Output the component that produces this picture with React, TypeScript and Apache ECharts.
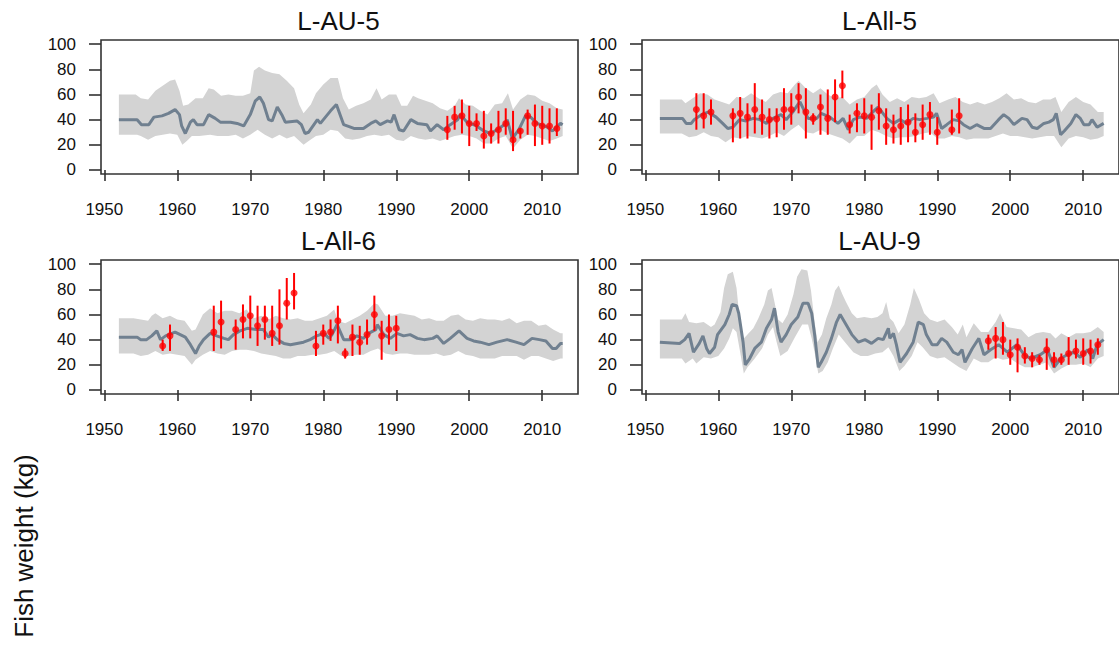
import React, { useEffect, useRef } from "react";
import * as echarts from "echarts";

// ---------- tick labels ----------
const xTicks = [1950, 1960, 1970, 1980, 1990, 2000, 2010];
const yTicks = [0, 20, 40, 60, 80, 100];
const titles = ["L-AU-5", "L-All-5", "L-All-6", "L-AU-9"];
const yTitle = "Fish weight (kg)";

// ---------- Panel 1: L-AU-5 ----------
const p1Line = [[1952,40],[1954.5,40],[1955.1,36],[1956.1,36],[1956.8,42],[1957.9,43],[1958.8,45],[1959.7,48],[1960.3,44],[1960.6,35],[1961.1,29],[1961.8,38],[1962.2,40],[1962.7,36],[1963.6,36],[1964.3,44],[1965.2,41],[1965.9,38],[1967.3,38],[1968.2,37],[1969.1,35],[1970,44],[1970.7,55],[1971.3,58],[1971.8,53],[1972.5,40],[1973,39],[1973.7,50],[1974.4,43],[1974.8,38],[1976.4,39],[1977,36],[1977.5,29],[1978,30],[1979.2,40],[1979.6,37],[1981,47],[1981.8,52],[1982.8,36],[1984.2,33],[1985.5,33],[1986.5,37],[1987.2,39],[1987.8,36],[1988.8,39],[1989.3,38],[1989.7,44],[1990.4,32],[1991,31],[1992,40],[1992.9,37],[1994.2,36],[1994.7,31],[1995.6,36],[1996.5,32],[1997.4,36],[1998.4,40],[1998.8,44],[1999.7,38],[2001,35],[2002,31],[2002.9,29],[2003.8,32],[2004.8,36],[2005.2,40],[2005.9,25],[2006.8,32],[2007.7,43],[2008.4,42],[2009.3,37],[2010.7,34],[2011.4,31],[2012.5,37],[2012.8,36]];
const p1Upper = [[1952,60],[1954.3,60],[1955,57],[1956,56],[1957,63],[1958,67],[1959,71],[1959.7,72],[1960.3,63],[1960.8,51],[1961.5,52],[1962.5,57],[1963.5,57],[1964.3,65],[1965,64],[1966,59],[1967,60],[1968,59],[1969,59],[1970,61],[1970.5,79],[1971.2,82],[1972,79],[1973,77],[1974,76],[1975,71],[1976,65],[1976.7,52],[1977.3,45],[1978.3,52],[1979,61],[1980,68],[1981,73],[1982,73],[1982.7,57],[1983.5,48],[1984.5,51],[1985.5,53],[1986.5,56],[1987.3,65],[1988,56],[1989,60],[1990,60],[1990.7,51],[1991.5,51],[1992.3,59],[1993,57],[1994,55],[1995,53],[1996,49],[1997,47],[1998,51],[1998.6,57],[1999.5,52],[2000.5,51],[2001.5,47],[2002.5,44],[2003.5,52],[2004.5,53],[2005.3,61],[2006,48],[2007,56],[2008,60],[2009,59],[2010,55],[2011,53],[2012,49],[2012.8,48]];
const p1Lower = [[1952,28],[1954.5,28],[1955,27],[1956,24],[1957,27],[1958,28],[1959,29],[1960,28],[1960.7,20],[1961.3,23],[1962,27],[1963,27],[1964.5,28],[1965.5,27],[1967,27],[1968,28],[1969,25],[1970,28],[1971,32],[1972,28],[1973,25],[1974,28],[1975,25],[1976,27],[1977.3,20],[1978,23],[1979,27],[1980,28],[1981,32],[1982,31],[1983,25],[1984,24],[1985,25],[1986,27],[1987,28],[1988,27],[1989,28],[1990,24],[1991,23],[1992,27],[1993,25],[1994,24],[1995,25],[1996,23],[1997,25],[1998,27],[1999,28],[2000,27],[2001,25],[2002,21],[2003,21],[2004,25],[2005,27],[2006,17],[2007,24],[2008,28],[2009,27],[2010,25],[2011,23],[2012,25],[2012.8,27]];
const p1ObsYear = [1997,1998,1999,2000,2001,2002,2003,2004,2005,2006,2007,2008,2009,2010,2011,2012];
const p1ObsMean = [32,42,43,37,37,27,29,32,37,24,31,43,37,35,35,33];
const p1ObsLo = [24,32,29,19,31,17,21,21,28,15,25,28,19,20,21,27];
const p1ObsHi = [43,51,56,51,45,47,37,47,49,47,33,48,52,51,49,49];

// ---------- Panel 2: L-All-5 ----------
const p2Line = [[1952,41],[1955.1,41],[1955.6,37],[1956.3,37],[1956.7,40],[1957.7,44],[1958.6,46],[1959.7,42],[1960.6,37],[1961.3,33],[1962,34],[1962.9,40],[1963.8,39],[1964.8,41],[1965.7,40],[1966.6,37],[1967.5,41],[1968.6,44],[1969.3,40],[1970.2,46],[1970.9,52],[1971.2,54],[1972.3,41],[1973.5,41],[1974.1,45],[1975.3,42],[1976.4,37],[1977.1,41],[1977.8,32],[1978.5,40],[1979.4,42],[1980.3,41],[1981.5,48],[1981.9,50],[1983.1,41],[1984,37],[1984.9,40],[1985.8,37],[1986.7,41],[1987.6,40],[1988.6,41],[1989.5,42],[1989.9,45],[1990.6,33],[1991.3,36],[1992.2,40],[1993,39],[1993.6,36],[1994.5,33],[1995.4,36],[1996.4,33],[1997.3,33],[1998.4,40],[1999.1,44],[1999.8,41],[2000.5,36],[2001.6,41],[2002.3,40],[2003,34],[2003.7,33],[2004.6,37],[2005.3,38],[2005.9,40],[2006.3,45],[2006.9,28],[2007.4,31],[2008.3,37],[2009,44],[2009.6,41],[2010.1,36],[2010.8,36],[2011.2,40],[2011.9,34],[2012.8,37]];
const p2Upper = [[1952,56],[1955,56],[1955.5,53],[1956.5,57],[1957.5,61],[1958.5,60],[1959.5,56],[1960.5,54],[1961.5,52],[1962.5,58],[1963.5,57],[1964.5,61],[1965.5,57],[1966.5,54],[1967.5,60],[1968.5,62],[1969.5,61],[1970.5,68],[1971,71],[1972,65],[1973,61],[1974,65],[1975,60],[1976,57],[1977,58],[1978,52],[1979,56],[1980,58],[1981,65],[1981.7,68],[1982.5,60],[1983.5,54],[1984.5,57],[1985.5,54],[1986.5,58],[1987.5,57],[1988.5,58],[1989.5,61],[1990.3,53],[1991.5,56],[1992.5,58],[1993.5,54],[1994.5,52],[1995.5,54],[1996.5,52],[1997.5,54],[1998.5,57],[1999.5,61],[2000.5,56],[2001.5,57],[2002.5,54],[2003.5,53],[2004.5,56],[2005.5,56],[2006.2,58],[2007,46],[2008,54],[2009,58],[2010,54],[2011,52],[2012,46],[2012.8,46]];
const p2Lower = [[1952,29],[1955,29],[1956,26],[1957,27],[1958,30],[1959,27],[1960,26],[1961,22],[1962,26],[1963,25],[1964,27],[1965,26],[1966,25],[1967,27],[1968,30],[1969,27],[1970,32],[1971,36],[1972,30],[1973,29],[1974,32],[1975,29],[1976,27],[1977,25],[1978,21],[1979,27],[1980,27],[1981,32],[1982,30],[1983,27],[1984,25],[1985,26],[1986,26],[1987,27],[1988,29],[1989,30],[1990,25],[1991,25],[1992,27],[1993,26],[1994,24],[1995,25],[1996,25],[1997,25],[1998,27],[1999,29],[2000,27],[2001,27],[2002,26],[2003,25],[2004,26],[2005,27],[2006,27],[2007,18],[2008,25],[2009,27],[2010,26],[2011,24],[2012,25],[2012.8,27]];
const p2ObsYear = [1957,1958,1959,1962,1963,1964,1965,1966,1967,1968,1969,1970,1971,1972,1973,1974,1975,1976,1977,1978,1979,1980,1981,1982,1983,1984,1985,1986,1987,1988,1989,1990,1992,1993];
const p2ObsMean = [48,43,46,43,45,42,48,42,40,40.5,48,48,58,46,41,50,41,58,67,36,45,43,42,47,35,32,35,38,30,36,44,30,32,43];
const p2ObsLo = [32,33,36,22,25,25,29,28,25,26,32,36,45,25,36,28,28,38,57,29,30,29,16,32,20,21,20,22,22,24,28,20,28,29];
const p2ObsHi = [61,61,56,49,58,53,69,56,49,49,65,61,69,65,45,60,64,72,79,44,53,57,52,61,49,44,50,52,45,52,54,42,48,57];

// ---------- Panel 3: L-All-6 ----------
const p3Line = [[1952,42],[1954.5,42],[1955,40],[1955.8,40],[1956.5,43],[1957.2,47],[1957.7,40],[1958.4,43],[1959.7,46],[1960.4,44],[1961.1,42],[1961.8,36],[1962.5,29],[1963,35],[1963.6,40],[1964.5,45],[1965.4,43],[1966.4,41],[1967,40],[1967.7,44],[1968.6,47],[1969.6,49],[1970.9,48],[1971.8,48],[1972.5,42],[1973,44],[1973.7,40],[1974.6,37],[1975.5,36],[1976.4,37],[1977.3,38],[1978.2,40],[1979.1,43],[1980.1,45],[1980.8,41],[1981.2,44],[1981.9,52],[1982.8,40],[1983.7,40],[1984.6,43],[1985.5,41],[1986.2,45],[1987.2,48],[1987.4,52],[1988.3,44],[1989.2,41],[1990.1,45],[1991,43],[1991.9,44],[1992.9,41],[1993.8,40],[1995,41],[1995.6,43],[1996.5,37],[1997.4,41],[1998.6,47],[1999.7,41],[2000.6,39],[2001.5,38],[2002.7,36],[2003.8,38],[2005.2,40],[2006.4,38],[2007.5,36],[2008.6,41],[2009.6,40],[2010.5,39],[2011.4,33],[2011.9,33],[2012.5,37],[2012.8,37]];
const p3Upper = [[1952,57],[1954,57],[1955,56],[1956,55],[1956.5,59],[1957,61],[1958,57],[1959,59],[1960,56],[1961,55],[1962,47],[1962.5,48],[1963.5,60],[1964.5,65],[1965.5,61],[1966.5,63],[1967.5,63],[1968.5,61],[1969.5,64],[1970.5,57],[1971.5,59],[1972.5,56],[1973.5,59],[1974.5,57],[1975.5,56],[1976.5,57],[1977.5,55],[1978.5,55],[1979.5,57],[1980.5,59],[1981.5,64],[1982,55],[1983,53],[1984,56],[1985,59],[1986,63],[1987,69],[1987.5,68],[1988.5,59],[1989.5,59],[1990.5,61],[1991.5,60],[1992.5,59],[1993.5,56],[1994.5,57],[1995.5,55],[1996.5,55],[1997.5,59],[1998.5,60],[1999.5,56],[2000.5,55],[2001.5,57],[2002.5,56],[2003.5,56],[2004.5,55],[2005.5,57],[2006.5,53],[2007.5,55],[2008.5,55],[2009.5,51],[2010.5,52],[2011.5,48],[2012.5,45],[2012.8,45]];
const p3Lower = [[1952,29],[1954,29],[1955,27],[1956,28],[1957,31],[1958,28],[1959,29],[1960,28],[1961,27],[1962,20],[1962.5,24],[1963.5,28],[1964.5,31],[1965.5,29],[1966.5,28],[1967.5,31],[1968.5,32],[1969.5,32],[1970.5,31],[1971.5,29],[1972.5,28],[1973.5,27],[1974.5,25],[1975.5,25],[1976.5,27],[1977.5,27],[1978.5,28],[1979.5,28],[1980.5,29],[1981.5,31],[1982.5,27],[1983.5,27],[1984.5,28],[1985.5,28],[1986.5,31],[1987.5,33],[1988.5,29],[1989.5,28],[1990.5,29],[1991.5,29],[1992.5,28],[1993.5,28],[1994.5,28],[1995.5,29],[1996.5,27],[1997.5,28],[1998.5,31],[1999.5,28],[2000.5,27],[2001.5,25],[2002.5,25],[2003.5,25],[2004.5,27],[2005.5,27],[2006.5,27],[2007.5,24],[2008.5,27],[2009.5,27],[2010.5,25],[2011.5,23],[2012.5,25],[2012.8,25]];
const p3ObsYear = [1958,1959,1965,1966,1968,1969,1970,1971,1972,1973,1974,1975,1976,1979,1980,1981,1982,1983,1984,1985,1986,1987,1988,1989,1990];
const p3ObsMean = [35,43,46,54,48,56,59,51,56,45,51,69,77,35,45,46,55,29,42,38,44,60,43,48,49];
const p3ObsLo = [31,31,31,33,32,41,41,35,40,35,36,56,64,27,36,39,37,25,27,28,36,47,24,36,31];
const p3ObsHi = [40,52,67,71,56,68,75,67,67,67,80,89,93,47,52,56,67,33,52,51,56,75,55,60,59];

// ---------- Panel 4: L-AU-9 ----------
const p4Line = [[1952,38],[1954.7,37],[1955.4,40],[1956,45],[1956.6,30],[1957.4,37],[1957.9,43],[1958.4,33],[1958.8,29],[1959.5,34],[1959.9,44],[1960.9,52],[1961.5,60],[1961.9,68],[1962.5,67],[1962.8,61],[1963.4,38],[1963.7,20],[1964.3,25],[1965,33],[1965.9,38],[1966.6,49],[1967.3,56],[1967.7,65],[1968.2,46],[1968.6,38],[1969.3,44],[1970,52],[1970.9,58],[1971.6,69],[1972.3,69],[1972.8,61],[1973.2,44],[1973.7,18],[1974.1,22],[1974.8,30],[1975.5,41],[1976.2,54],[1976.7,60],[1977.3,54],[1978.3,44],[1979.2,38],[1980.1,40],[1981,37],[1981.9,41],[1982.6,40],[1983.3,49],[1983.5,41],[1984,45],[1984.4,36],[1984.9,22],[1985.8,29],[1986.7,38],[1987.4,54],[1988.1,52],[1988.5,44],[1989.3,36],[1990,36],[1990.6,41],[1991.3,38],[1992.2,30],[1992.9,28],[1993.4,32],[1993.8,22],[1994.8,33],[1995.7,41],[1996.4,28],[1997.3,32],[1998.4,36],[1999.6,30],[2000.9,36],[2001.9,28],[2002.8,25],[2004.1,28],[2005.1,32],[2006,18],[2006.9,25],[2007.8,28],[2008.7,30],[2009.6,26],[2010.6,32],[2011.3,25],[2011.9,36],[2012.8,40]];
const p4Upper = [[1952,56],[1955,56],[1955.5,61],[1956,54],[1957,53],[1958,54],[1959,50],[1959.5,52],[1960.3,62],[1960.8,81],[1961.3,92],[1962,94],[1962.5,81],[1963,52],[1963.5,41],[1964,44],[1964.8,49],[1965.5,57],[1966.3,68],[1966.8,79],[1967.3,81],[1967.7,70],[1968.2,56],[1968.8,53],[1969.5,60],[1970.3,76],[1970.8,90],[1971.4,96],[1972.2,95],[1972.7,79],[1973.2,54],[1973.6,38],[1974.2,44],[1974.8,57],[1975.5,68],[1976,79],[1976.5,83],[1977,76],[1977.5,70],[1978.3,61],[1979,57],[1980,58],[1981,57],[1981.8,58],[1982.5,61],[1983,70],[1983.5,57],[1984,54],[1984.7,45],[1985.5,52],[1986.3,68],[1986.8,81],[1987.5,72],[1988.2,61],[1989,56],[1990,54],[1991,56],[1992,50],[1992.8,44],[1993.5,52],[1994,42],[1995,53],[1996,46],[1997,46],[1998,54],[1998.6,61],[1999.5,50],[2000.5,49],[2001.5,48],[2002.5,42],[2003.5,45],[2004.5,46],[2005.5,45],[2006.2,41],[2007,45],[2008,42],[2009,45],[2010,45],[2011,46],[2012,50],[2012.8,46]];
const p4Lower = [[1952,25],[1955,25],[1955.5,21],[1956.5,25],[1957,21],[1958,26],[1959,25],[1960,27],[1960.8,33],[1961.5,41],[1962,49],[1962.5,46],[1963,30],[1963.5,13],[1964,18],[1965,25],[1966,33],[1966.8,44],[1967.5,50],[1968,38],[1968.5,27],[1969.5,31],[1970.5,42],[1971.5,52],[1972.3,52],[1972.8,41],[1973.3,27],[1973.7,13],[1974.3,15],[1975,22],[1975.7,33],[1976.5,44],[1977.5,37],[1978.5,30],[1979.5,27],[1980.5,27],[1981.5,29],[1982.5,30],[1983.3,34],[1984,27],[1984.8,15],[1985.5,19],[1986.5,27],[1987.3,38],[1988,34],[1989,27],[1990,25],[1991,26],[1992,22],[1993,18],[1994,15],[1995,25],[1996,22],[1997,22],[1998,26],[1999,24],[2000,25],[2001,21],[2002,18],[2003,18],[2004,20],[2005,22],[2006,13],[2007,17],[2008,20],[2009,20],[2010,21],[2011,18],[2012,25],[2012.8,27]];
const p4ObsYear = [1997,1998,1999,2000,2001,2002,2003,2004,2005,2006,2007,2008,2009,2010,2011,2012];
const p4ObsMean = [39,41,40,28,34,27,25,24,32,24,24,29,31,29,31,36];
const p4ObsLo = [32,25,28,20,14,21,18,20,16,18,20,20,25,20,21,28];
const p4ObsHi = [44,50,54,40,41,34,30,28,41,30,29,42,40,41,40,41];

const panelData = [
  { line: p1Line, upper: p1Upper, lower: p1Lower, oy: p1ObsYear, om: p1ObsMean, ol: p1ObsLo, oh: p1ObsHi },
  { line: p2Line, upper: p2Upper, lower: p2Lower, oy: p2ObsYear, om: p2ObsMean, ol: p2ObsLo, oh: p2ObsHi },
  { line: p3Line, upper: p3Upper, lower: p3Lower, oy: p3ObsYear, om: p3ObsMean, ol: p3ObsLo, oh: p3ObsHi },
  { line: p4Line, upper: p4Upper, lower: p4Lower, oy: p4ObsYear, om: p4ObsMean, ol: p4ObsLo, oh: p4ObsHi },
];

// layout (pixels)
const gridPos = [
  { left: 101, top: 40 },
  { left: 642, top: 40 },
  { left: 101, top: 260 },
  { left: 642, top: 260 },
];
const GW = 477;
const GH = 134;
const FONT = "'Liberation Sans', Arial, sans-serif";
const AXIS_COLOR = "#333";

export default function App() {
  const ref = useRef<HTMLDivElement>(null);
  useEffect(() => {
    if (!ref.current) return;
    const chart = echarts.init(ref.current, undefined, { renderer: "svg" });

    const grid = gridPos.map((g) => ({
      left: g.left,
      top: g.top,
      width: GW,
      height: GH,
      show: true,
      borderColor: AXIS_COLOR,
      borderWidth: 1.6,
      backgroundColor: "transparent",
    }));

    const xAxis = gridPos.map((_, i) => ({
      type: "value",
      gridIndex: i,
      min: 1949.55,
      max: 2014.9,
      axisLine: { show: false },
      axisTick: {
        show: true,
        customValues: xTicks,
        length: 11,
        lineStyle: { color: AXIS_COLOR, width: 1.6 },
      },
      axisLabel: {
        customValues: xTicks,
        formatter: (v: number) => String(v),
        margin: 27,
        fontSize: 17,
        color: "#111",
        fontFamily: FONT,
      },
      splitLine: { show: false },
    }));

    const yAxis = gridPos.map((_, i) => ({
      type: "value",
      gridIndex: i,
      min: -3.2,
      max: 103.3,
      axisLine: { show: false },
      axisTick: {
        show: true,
        customValues: yTicks,
        length: 12,
        lineStyle: { color: AXIS_COLOR, width: 1.6 },
      },
      axisLabel: {
        customValues: yTicks,
        formatter: (v: number) => String(v),
        margin: 25,
        fontSize: 17,
        color: "#111",
        fontFamily: FONT,
      },
      splitLine: { show: false },
    }));

    const series: any[] = [];
    panelData.forEach((p, i) => {
      series.push({
        type: "custom",
        xAxisIndex: i,
        yAxisIndex: i,
        z: 1,
        silent: true,
        data: [[p.upper[0][0], p.upper[0][1]]],
        renderItem: (_params: any, api: any) => {
          const pts = [
            ...p.upper.map((d) => api.coord(d)),
            ...p.lower.slice().reverse().map((d) => api.coord(d)),
          ];
          return {
            type: "polygon",
            shape: { points: pts },
            style: { fill: "#D3D3D3" },
          };
        },
      });
      series.push({
        type: "line",
        xAxisIndex: i,
        yAxisIndex: i,
        z: 3,
        data: p.line,
        showSymbol: false,
        lineStyle: { color: "#708090", width: 3 },
        itemStyle: { color: "#708090" },
      });
      series.push({
        type: "custom",
        xAxisIndex: i,
        yAxisIndex: i,
        z: 4,
        data: p.oy.map((y, k) => [y, p.om[k], p.ol[k], p.oh[k]]),
        encode: { x: 0, y: [1, 2, 3] },
        renderItem: (_params: any, api: any) => {
          const x = api.value(0);
          const a = api.coord([x, api.value(2)]);
          const b = api.coord([x, api.value(3)]);
          return {
            type: "line",
            shape: { x1: a[0], y1: a[1], x2: b[0], y2: b[1] },
            style: { stroke: "#FF0000", lineWidth: 2 },
          };
        },
      });
      series.push({
        type: "scatter",
        xAxisIndex: i,
        yAxisIndex: i,
        z: 5,
        data: p.oy.map((y, k) => [y, p.om[k]]),
        symbol: "circle",
        symbolSize: 7,
        itemStyle: { color: "#FF0000" },
      });
    });

    const titleGraphics = titles.map((t, i) => ({
      type: "text",
      x: gridPos[i].left + GW / 2 - 1,
      y: gridPos[i].top - 19,
      style: {
        text: t,
        fontSize: 26,
        fontFamily: FONT,
        fill: "#111",
        align: "center",
        verticalAlign: "middle",
      },
    }));

    chart.setOption({
      animation: false,
      backgroundColor: "#fff",
      grid,
      xAxis,
      yAxis,
      series,
      graphic: [
        ...titleGraphics,
        {
          type: "text",
          x: 24,
          y: 546,
          rotation: Math.PI / 2,
          style: {
            text: yTitle,
            fontSize: 26,
            fontFamily: FONT,
            fill: "#111",
            align: "center",
            verticalAlign: "middle",
          },
        },
      ],
    });
    return () => chart.dispose();
  }, []);

  return (
    <div
      ref={ref}
      style={{ position: "fixed", left: 0, top: 0, width: 1119, height: 651, background: "#fff" }}
    />
  );
}
